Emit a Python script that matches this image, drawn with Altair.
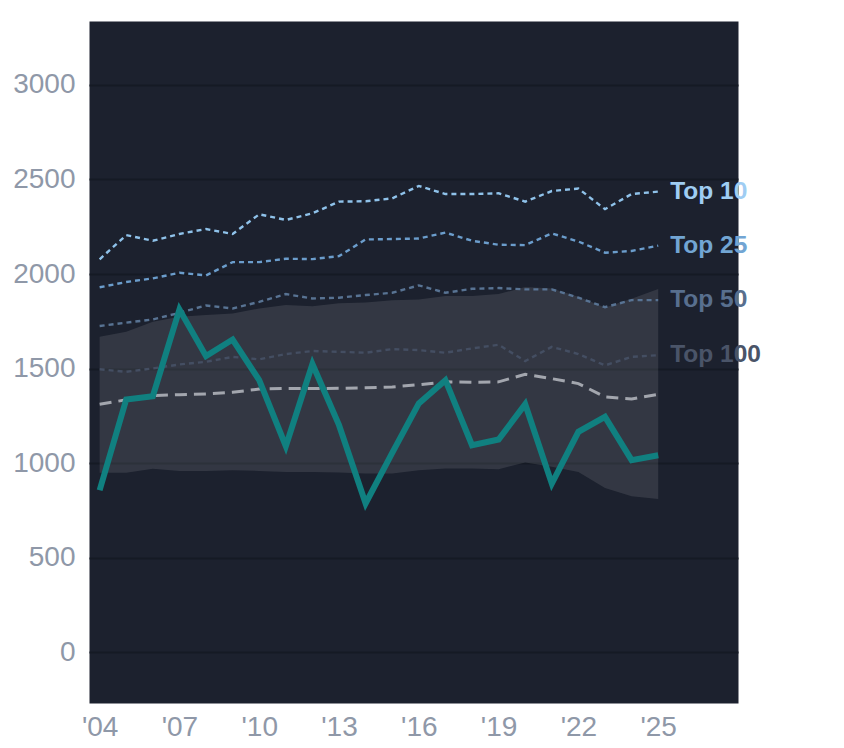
import altair as alt
import pandas as pd

years = list(range(2004, 2026))
top10 = [2078, 2206, 2176, 2212, 2238, 2212, 2316, 2286, 2321, 2383, 2385, 2400, 2466, 2423, 2423, 2427, 2383, 2439, 2452, 2343, 2423, 2436]
top25 = [1930, 1958, 1977, 2007, 1993, 2063, 2063, 2081, 2079, 2095, 2183, 2185, 2188, 2219, 2176, 2155, 2153, 2215, 2172, 2113, 2122, 2150]
top50 = [1725, 1743, 1760, 1795, 1834, 1818, 1853, 1894, 1871, 1875, 1889, 1901, 1940, 1901, 1922, 1926, 1919, 1919, 1875, 1825, 1862, 1862]
top100 = [1497, 1483, 1501, 1522, 1536, 1562, 1549, 1577, 1593, 1589, 1584, 1603, 1598, 1584, 1607, 1626, 1540, 1615, 1577, 1517, 1562, 1571]
median = [1312, 1335, 1358, 1362, 1366, 1375, 1392, 1395, 1395, 1396, 1399, 1403, 1415, 1430, 1428, 1430, 1470, 1447, 1421, 1350, 1340, 1364]
team = [857, 1337, 1354, 1813, 1566, 1654, 1439, 1090, 1524, 1201, 787, 1055, 1316, 1439, 1095, 1125, 1312, 892, 1166, 1245, 1016, 1042]
band_low = [950, 949, 970, 959, 959, 963, 959, 954, 954, 951, 945, 945, 963, 972, 972, 968, 1004, 981, 954, 869, 825, 810]
band_high = [1669, 1695, 1748, 1774, 1783, 1792, 1818, 1836, 1830, 1845, 1850, 1862, 1866, 1884, 1884, 1894, 1931, 1924, 1880, 1823, 1870, 1921]

series_names = ["Top 10", "Top 25", "Top 50", "Top 100"]
series_vals = [top10, top25, top50, top100]
line_colors = ["#8fc2ea", "#6b9dcc", "#587393", "#444e62"]
label_colors = ["#9fcdf3", "#72a5d3", "#586f8e", "#4a5468"]

x_ticks = [2004, 2007, 2010, 2013, 2016, 2019, 2022, 2025]
y_ticks = [0, 500, 1000, 1500, 2000, 2500, 3000]

FONT = "Liberation Sans"

base_df = pd.DataFrame({"year": years, "median": median, "team": team,
                        "lo": band_low, "hi": band_high})
long_df = pd.DataFrame([
    {"year": y, "value": v, "series": n}
    for n, vals in zip(series_names, series_vals)
    for y, v in zip(years, vals)
])
label_df = pd.DataFrame({"year": [years[-1]] * 4,
                         "value": [vals[-1] for vals in series_vals],
                         "series": series_names})

xscale = alt.Scale(domain=[2003.6, 2028], nice=False, zero=False)
yscale = alt.Scale(domain=[-268, 3338], nice=False, zero=False)

xaxis = alt.Axis(values=x_ticks, labelExpr="\"'\" + substring(toString(datum.value), 2)",
                 grid=False, ticks=False, domain=False, labelFontSize=28,
                 labelColor="#8f98a8", labelPadding=10, labelFont=FONT, title=None)
yaxis = alt.Axis(values=y_ticks, format="d", grid=True, gridColor="#151a24", gridWidth=2,
                 ticks=False, domain=False, labelFontSize=28, labelColor="#8f98a8",
                 labelPadding=14, labelFont=FONT, title=None)

base = alt.Chart(base_df)

band = base.mark_area(color="white", opacity=0.1).encode(
    x=alt.X("year:Q", scale=xscale, axis=xaxis),
    y=alt.Y("lo:Q", scale=yscale, axis=yaxis),
    y2="hi:Q",
)

lines = alt.Chart(long_df).mark_line(strokeWidth=2.4, strokeDash=[5, 4]).encode(
    x=alt.X("year:Q", scale=xscale),
    y=alt.Y("value:Q", scale=yscale),
    color=alt.Color("series:N", scale=alt.Scale(domain=series_names, range=line_colors), legend=None),
)

med = base.mark_line(strokeWidth=3, strokeDash=[12, 7], color="#a3a6ae").encode(
    x=alt.X("year:Q", scale=xscale),
    y=alt.Y("median:Q", scale=yscale),
)

teamline = base.mark_line(strokeWidth=6, color="#108080").encode(
    x=alt.X("year:Q", scale=xscale),
    y=alt.Y("team:Q", scale=yscale),
)

labels = alt.Chart(label_df).mark_text(align="left", baseline="middle", dx=12,
                                       fontSize=24.5, fontWeight="bold", font=FONT).encode(
    x=alt.X("year:Q", scale=xscale),
    y=alt.Y("value:Q", scale=yscale),
    text="series:N",
    color=alt.Color("series:N", scale=alt.Scale(domain=series_names, range=label_colors), legend=None),
)

chart = alt.layer(band, lines, med, teamline, labels).resolve_scale(color="independent").properties(
    width=649, height=682,
    autosize=alt.AutoSizeParams(type="none"),
    padding={"left": 81, "top": 13, "right": 90, "bottom": 45},
    background="white",
).configure_view(fill="#1c212e", stroke="transparent")

chart.save("out.html", embed_options={"renderer": "svg", "actions": False})
